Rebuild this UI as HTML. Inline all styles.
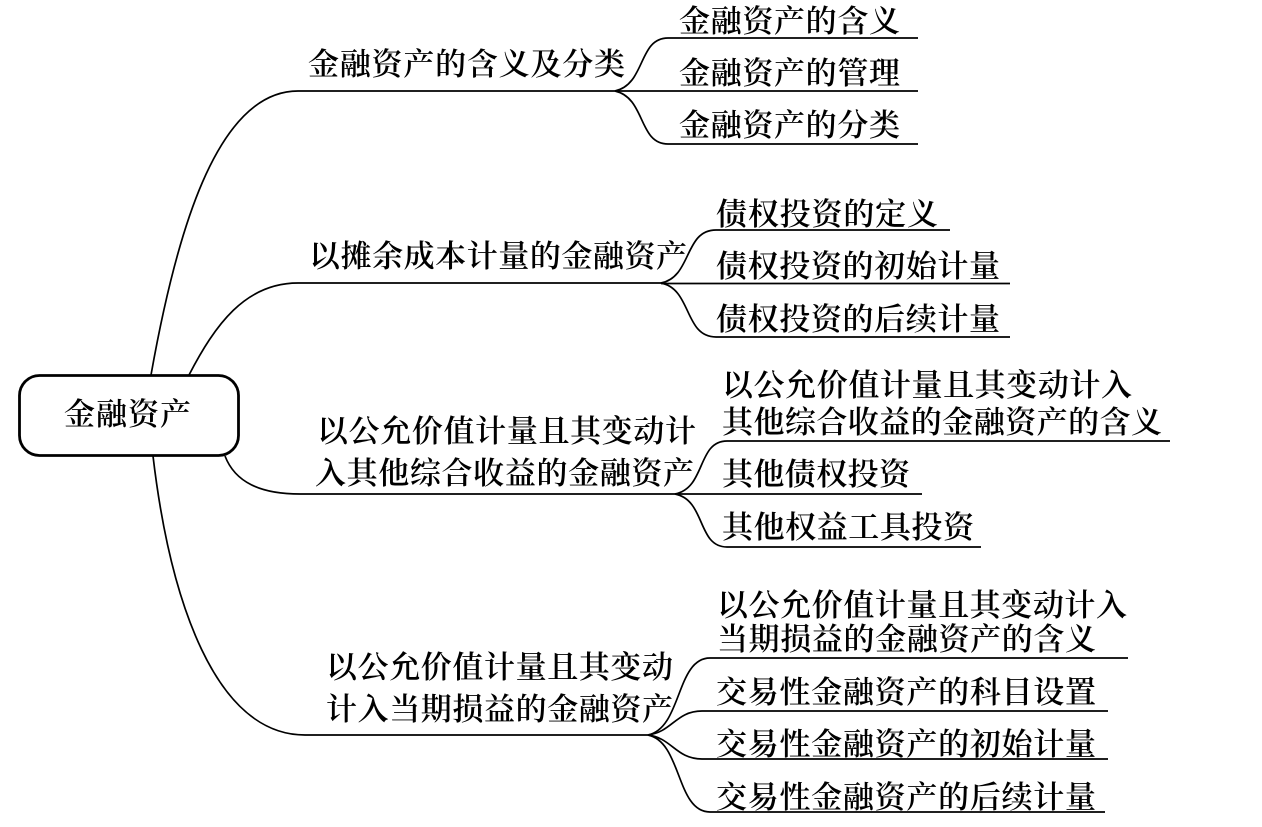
<!DOCTYPE html>
<html><head><meta charset="utf-8">
<style>
html,body{margin:0;padding:0;background:#fff;width:1262px;height:827px;overflow:hidden}
svg{display:block}
text{font-family:"Noto Serif CJK SC","Liberation Serif",serif;font-size:31px;fill:#000;font-weight:600}
path,line,rect{fill:none;stroke:#000;stroke-width:1.7}
</style></head><body>
<svg width="1262" height="827" viewBox="0 0 1262 827" xmlns="http://www.w3.org/2000/svg">
<rect x="19.5" y="375.5" width="219" height="80" rx="20" ry="20" style="stroke-width:2.8"/>
<text x="64" y="425" textLength="127" lengthAdjust="spacing">金融资产</text>

<path d="M151 375C175 240 215 91 298 91H616"/>
<path d="M189 375C215 325 245 283 298 283H662"/>
<path d="M225 456C235 482 260 494 300 494H676"/>
<path d="M153 456C170 600 215 735 305 735H650"/>

<path d="M615 91C646 84 638 38 668 38H918"/>
<path d="M615 91C646 98 638 144 668 144H918"/>
<line x1="615" y1="91" x2="918" y2="91"/>
<text x="308" y="75" textLength="317" lengthAdjust="spacing">金融资产的含义及分类</text>
<text x="679" y="32" textLength="221" lengthAdjust="spacing">金融资产的含义</text>
<text x="679" y="84" textLength="221" lengthAdjust="spacing">金融资产的管理</text>
<text x="679" y="136" textLength="221" lengthAdjust="spacing">金融资产的分类</text>

<path d="M661 283C692 277 684 230 716 230H950"/>
<path d="M661 283C692 289 684 337 716 337H1010"/>
<line x1="661" y1="283.5" x2="1010" y2="283.5"/>
<text x="309" y="267" textLength="378" lengthAdjust="spacing">以摊余成本计量的金融资产</text>
<text x="716" y="225" textLength="222" lengthAdjust="spacing">债权投资的定义</text>
<text x="716" y="277" textLength="284" lengthAdjust="spacing">债权投资的初始计量</text>
<text x="716" y="330" textLength="284" lengthAdjust="spacing">债权投资的后续计量</text>

<path d="M675 494C706 488 697 441 727 441H1170"/>
<path d="M675 494C706 500 697 547 727 547H981"/>
<line x1="675" y1="494" x2="922" y2="494"/>
<text x="317" y="442" textLength="379" lengthAdjust="spacing">以公允价值计量且其变动计</text>
<text x="315" y="484" textLength="379" lengthAdjust="spacing">入其他综合收益的金融资产</text>
<text x="722" y="396" textLength="410" lengthAdjust="spacing">以公允价值计量且其变动计入</text>
<text x="722" y="433" textLength="440" lengthAdjust="spacing">其他综合收益的金融资产的含义</text>
<text x="722" y="485" textLength="188" lengthAdjust="spacing">其他债权投资</text>
<text x="722" y="538" textLength="252" lengthAdjust="spacing">其他权益工具投资</text>

<path d="M648 735C682 728 676 658 710 658H1128"/>
<path d="M648 735C672 732 676 711 702 711H1108"/>
<path d="M648 735C672 738 676 759 702 759H1108"/>
<path d="M648 735C682 742 676 812 710 812H1105"/>
<text x="326" y="678" textLength="347" lengthAdjust="spacing">以公允价值计量且其变动</text>
<text x="326" y="720" textLength="347" lengthAdjust="spacing">计入当期损益的金融资产</text>
<text x="717" y="616" textLength="410" lengthAdjust="spacing">以公允价值计量且其变动计入</text>
<text x="717" y="650" textLength="379" lengthAdjust="spacing">当期损益的金融资产的含义</text>
<text x="716" y="703" textLength="380" lengthAdjust="spacing">交易性金融资产的科目设置</text>
<text x="716" y="755" textLength="380" lengthAdjust="spacing">交易性金融资产的初始计量</text>
<text x="716" y="808" textLength="380" lengthAdjust="spacing">交易性金融资产的后续计量</text>
</svg>
</body></html>
